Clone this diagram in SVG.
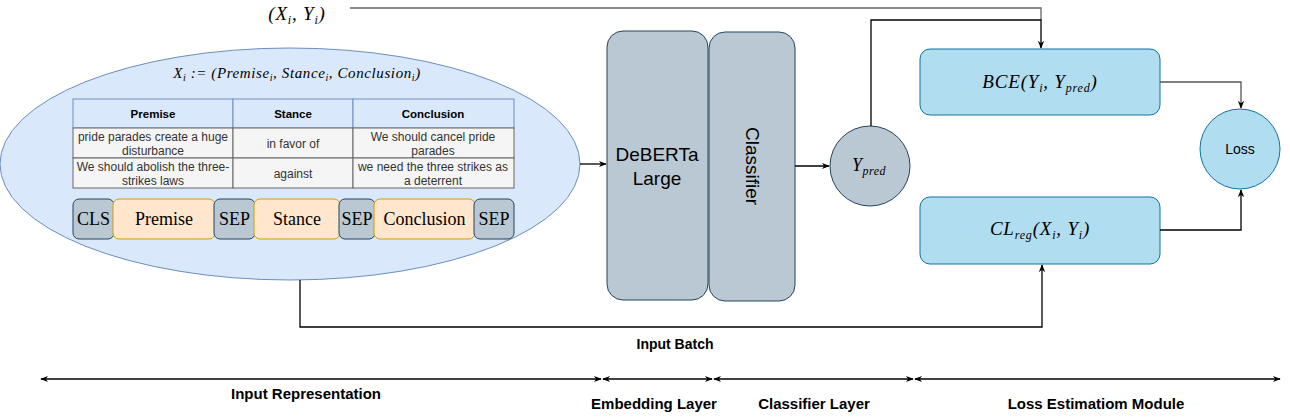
<svg xmlns="http://www.w3.org/2000/svg" width="1290" height="420" viewBox="0 0 1290 420">
<style>
.sans{font-family:"Liberation Sans",Arial,sans-serif}
.serif{font-family:"Liberation Serif","Times New Roman",serif}
.math{font-family:"Liberation Serif","Times New Roman",serif;font-style:italic}
.gray{fill:#bac8d3;stroke:#23445d;stroke-width:1}
.orange{fill:#ffe6cc;stroke:#d79b00;stroke-width:1}
.blue{fill:#b1ddf0;stroke:#10739e;stroke-width:1}
.hdr{fill:#dae8fc;stroke:#6c8ebf;stroke-width:1}
.cell{fill:#f5f5f5;stroke:#666666;stroke-width:1}
.conn{fill:none;stroke:#000;stroke-width:1.3}
.tbl{font-size:12px;fill:#333}
.th{font-size:11.5px;font-weight:bold;fill:#000}
.tok{font-size:18px;fill:#000}
.lbl{font-size:14px;font-weight:bold;fill:#000}
.lbl2{font-size:15px;font-weight:bold;fill:#000}
</style>
<defs>
<marker id="ah" viewBox="0 0 10 10" refX="9" refY="5" markerWidth="8" markerHeight="8" orient="auto-start-reverse" markerUnits="userSpaceOnUse">
<path d="M0,1 L10,5 L0,9 L3,5 Z" fill="#000"/>
</marker>
</defs>

<g id="input-ellipse">
<ellipse cx="290" cy="164" rx="290" ry="116" fill="#dae8fc" stroke="#6c8ebf" stroke-width="1"/>
<text class="math" x="297" y="78" font-size="15" letter-spacing="0.6" text-anchor="middle">X<tspan font-size="10" dy="3">i</tspan><tspan dy="-3"> := (Premise</tspan><tspan font-size="10" dy="3">i</tspan><tspan dy="-3">, Stance</tspan><tspan font-size="10" dy="3">i</tspan><tspan dy="-3">, Conclusion</tspan><tspan font-size="10" dy="3">i</tspan><tspan dy="-3">)</tspan></text>
</g>

<g id="table" class="sans">
<rect class="hdr" x="73" y="99" width="160" height="29"/>
<rect class="hdr" x="233" y="99" width="120" height="29"/>
<rect class="hdr" x="353" y="99" width="161" height="29"/>
<rect class="cell" x="73" y="128" width="160" height="30"/>
<rect class="cell" x="233" y="128" width="120" height="30"/>
<rect class="cell" x="353" y="128" width="161" height="30"/>
<rect class="cell" x="73" y="158" width="160" height="30"/>
<rect class="cell" x="233" y="158" width="120" height="30"/>
<rect class="cell" x="353" y="158" width="161" height="30"/>
<text class="th" x="153" y="118" text-anchor="middle">Premise</text>
<text class="th" x="293" y="118" text-anchor="middle">Stance</text>
<text class="th" x="433" y="118" text-anchor="middle">Conclusion</text>
<text class="tbl" x="153" y="141" text-anchor="middle">pride parades create a huge</text>
<text class="tbl" x="153" y="155" text-anchor="middle">disturbance</text>
<text class="tbl" x="293" y="148" text-anchor="middle">in favor of</text>
<text class="tbl" x="433" y="141" text-anchor="middle">We should cancel pride</text>
<text class="tbl" x="433" y="155" text-anchor="middle">parades</text>
<text class="tbl" x="153" y="171" text-anchor="middle">We should abolish the three-</text>
<text class="tbl" x="153" y="185" text-anchor="middle">strikes laws</text>
<text class="tbl" x="293" y="178" text-anchor="middle">against</text>
<text class="tbl" x="433" y="171" text-anchor="middle">we need the three strikes as</text>
<text class="tbl" x="433" y="185" text-anchor="middle">a deterrent</text>
</g>

<g id="tokens" class="serif">
<rect class="gray" x="73" y="199" width="41" height="40" rx="6"/>
<rect class="orange" x="113" y="199" width="102" height="40" rx="6"/>
<rect class="gray" x="214" y="199" width="41" height="40" rx="6"/>
<rect class="orange" x="254" y="199" width="86" height="40" rx="6"/>
<rect class="gray" x="339" y="199" width="36" height="40" rx="6"/>
<rect class="orange" x="374" y="199" width="101" height="40" rx="6"/>
<rect class="gray" x="474" y="199" width="40" height="40" rx="6"/>
<text class="tok" x="93.5" y="225" text-anchor="middle">CLS</text>
<text class="tok" x="164" y="225" text-anchor="middle">Premise</text>
<text class="tok" x="234.5" y="225" text-anchor="middle">SEP</text>
<text class="tok" x="297" y="225" text-anchor="middle">Stance</text>
<text class="tok" x="357" y="225" text-anchor="middle">SEP</text>
<text class="tok" x="424.5" y="225" text-anchor="middle">Conclusion</text>
<text class="tok" x="494" y="225" text-anchor="middle">SEP</text>
</g>

<g id="deberta">
<rect class="gray" x="607" y="31" width="101" height="269" rx="16"/>
<text class="sans" x="657" y="161" font-size="19" text-anchor="middle">DeBERTa</text>
<text class="sans" x="657" y="185" font-size="19" text-anchor="middle">Large</text>
</g>

<g id="classifier">
<rect class="gray" x="709" y="32" width="86" height="269" rx="16"/>
<text class="sans" x="752" y="166" font-size="19" text-anchor="middle" dominant-baseline="central" transform="rotate(90 752 166)">Classifier</text>
</g>

<g id="ypred">
<circle class="gray" cx="870" cy="166" r="40"/>
<text class="math" x="869" y="171" font-size="18" letter-spacing="0.5" text-anchor="middle">Y<tspan font-size="12" dy="4">pred</tspan></text>
</g>

<g id="bce">
<rect class="blue" x="920" y="49" width="240" height="66" rx="10"/>
<text class="math" x="1040" y="88" font-size="19" letter-spacing="0.8" text-anchor="middle">BCE(Y<tspan font-size="12" dy="4">i</tspan><tspan dy="-4">, Y</tspan><tspan font-size="12" dy="4">pred</tspan><tspan dy="-4">)</tspan></text>
</g>

<g id="clreg">
<rect class="blue" x="920" y="197" width="240" height="67" rx="10"/>
<text class="math" x="1040" y="235" font-size="19" letter-spacing="0.8" text-anchor="middle">CL<tspan font-size="12" dy="4">reg</tspan><tspan dy="-4">(X</tspan><tspan font-size="12" dy="4">i</tspan><tspan dy="-4">, Y</tspan><tspan font-size="12" dy="4">i</tspan><tspan dy="-4">)</tspan></text>
</g>

<g id="loss">
<circle class="blue" cx="1240" cy="149" r="40"/>
<text class="sans" x="1240" y="154" font-size="14" text-anchor="middle">Loss</text>
</g>

<g id="xy-label">
<text class="math" x="297" y="20" font-size="19" letter-spacing="0.8" text-anchor="middle">(X<tspan font-size="12" dy="4">i</tspan><tspan dy="-4">, Y</tspan><tspan font-size="12" dy="4">i</tspan><tspan dy="-4">)</tspan></text>
</g>

<g id="connectors">
<path class="conn" d="M580,164 L606,164" marker-end="url(#ah)"/>
<path class="conn" d="M795,166 L829,166" marker-end="url(#ah)"/>
<path class="conn" d="M350,8 L1041,8 L1041,20" style="stroke:#666"/>
<path class="conn" d="M871,126 L871,20 L1041,20 L1041,48" marker-end="url(#ah)"/>
<path class="conn" d="M1160,82 L1241,82 L1241,108" style="stroke:#555" marker-end="url(#ah)"/>
<path class="conn" d="M1160,230 L1241,230 L1241,190" marker-end="url(#ah)"/>
<path class="conn" d="M300,280 L300,327 L1042,327 L1042,265" marker-end="url(#ah)"/>
<path class="conn" d="M41,379 L601,379" marker-start="url(#ah)" marker-end="url(#ah)"/>
<path class="conn" d="M603,379 L712,379" marker-start="url(#ah)" marker-end="url(#ah)"/>
<path class="conn" d="M714,379 L913,379" marker-start="url(#ah)" marker-end="url(#ah)"/>
<path class="conn" d="M915,379 L1280,379" marker-start="url(#ah)" marker-end="url(#ah)"/>
</g>

<g id="labels" class="sans">
<text class="lbl" x="675" y="349" text-anchor="middle">Input Batch</text>
<text class="lbl2" x="306" y="399" text-anchor="middle">Input Representation</text>
<text class="lbl2" x="654" y="409" text-anchor="middle">Embedding Layer</text>
<text class="lbl2" x="814" y="409" text-anchor="middle">Classifier Layer</text>
<text class="lbl2" x="1096" y="409" text-anchor="middle">Loss Estimatiom Module</text>
</g>
</svg>
